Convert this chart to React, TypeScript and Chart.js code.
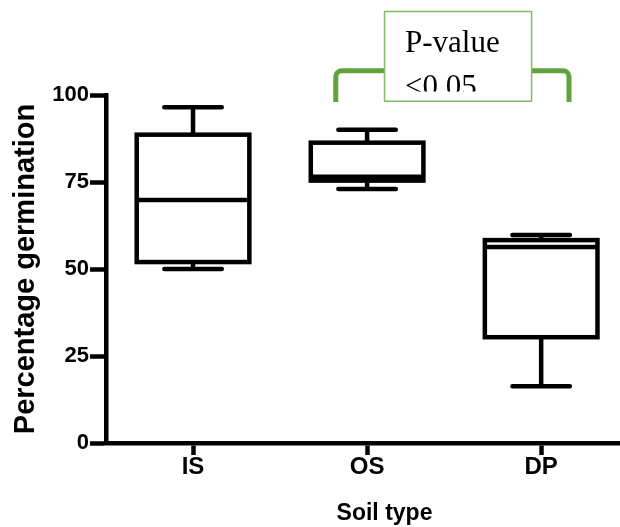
import React, { useEffect, useRef } from 'react';
import { Chart, registerables } from 'chart.js';

Chart.register(...registerables);

// ---- data ----
const CATEGORIES = ['IS', 'OS', 'DP'];
const WHISKER_MIN = [50, 73, 16.3];
const Q1 = [52, 75.4, 30.4];
const MEDIAN = [69.8, 76.5, 56.3];
const Q3 = [88.6, 86.3, 58.3];
const WHISKER_MAX = [96.5, 90, 59.8];
const Y_TICKS = [0, 25, 50, 75, 100];

const Y_TITLE = 'Percentage germination';
const X_TITLE = 'Soil type';
const NOTE_LINES = ['P-value', '<0.05'];

// ---- styling ----
const CANVAS_W = 675;
const CANVAS_H = 527;
const LINE_W = 4.5;
const CAP_RATIO = 0.51;
const SANS = "'Liberation Sans', Arial, sans-serif";
const SERIF = "'Liberation Serif', 'Times New Roman', serif";
const BRACKET_GREEN = '#5fa33a';
const NOTE_GREEN = '#82bb63';

// annotation placement in axis units (x: category index, y: percentage)
const BRACKET = { from: 0.82, to: 2.16, top: 107, bottom: 98 };
const NOTE_BOX = { from: 1.1, to: 1.945, top: 124, bottom: 98.2, clipBottom: 101 };
const NOTE_TEXT = { x: 1.218, baselines: [112.4, 99.7] };

const boxPlotPlugin = {
  id: 'boxPlotStrokes',
  afterDatasetsDraw(chart: any) {
    const meta = chart.getDatasetMeta(0);
    const ys = chart.scales.y;
    const ctx = chart.ctx;
    ctx.save();
    ctx.strokeStyle = '#000';
    ctx.lineWidth = LINE_W;
    meta.data.forEach((bar: any, i: number) => {
      const { x, width } = bar.getProps(['x', 'width'], true);
      const left = x - width / 2;
      const right = x + width / 2;
      const yMin = ys.getPixelForValue(WHISKER_MIN[i]);
      const yQ1 = ys.getPixelForValue(Q1[i]);
      const yMed = ys.getPixelForValue(MEDIAN[i]);
      const yQ3 = ys.getPixelForValue(Q3[i]);
      const yMax = ys.getPixelForValue(WHISKER_MAX[i]);
      // whisker stems
      ctx.lineCap = 'butt';
      ctx.beginPath();
      ctx.moveTo(x, yQ3);
      ctx.lineTo(x, yMax);
      ctx.moveTo(x, yQ1);
      ctx.lineTo(x, yMin);
      ctx.stroke();
      // caps
      const half = (width * CAP_RATIO) / 2;
      ctx.lineCap = 'round';
      ctx.beginPath();
      ctx.moveTo(x - half, yMax);
      ctx.lineTo(x + half, yMax);
      ctx.moveTo(x - half, yMin);
      ctx.lineTo(x + half, yMin);
      ctx.stroke();
      // box
      ctx.lineCap = 'butt';
      ctx.lineJoin = 'miter';
      ctx.strokeRect(left, yQ3, width, yQ1 - yQ3);
      // median
      ctx.beginPath();
      ctx.moveTo(left, yMed);
      ctx.lineTo(right, yMed);
      ctx.stroke();
    });
    ctx.restore();
  },
};

const annotationPlugin = {
  id: 'pValueNote',
  afterDraw(chart: any) {
    const { ctx } = chart;
    const xs = chart.scales.x;
    const ys = chart.scales.y;
    const px = (v: number) => xs.getPixelForValue(v);
    const py = (v: number) => ys.getPixelForValue(v);
    ctx.save();
    // bracket
    const xl = px(BRACKET.from);
    const xr = px(BRACKET.to);
    const yt = py(BRACKET.top);
    const yb = py(BRACKET.bottom);
    const r = 6;
    ctx.strokeStyle = BRACKET_GREEN;
    ctx.lineWidth = 5;
    ctx.lineCap = 'butt';
    ctx.lineJoin = 'round';
    ctx.beginPath();
    ctx.moveTo(xl, yb);
    ctx.lineTo(xl, yt + r);
    ctx.arcTo(xl, yt, xl + r, yt, r);
    ctx.lineTo(xr - r, yt);
    ctx.arcTo(xr, yt, xr, yt + r, r);
    ctx.lineTo(xr, yb);
    ctx.stroke();
    // text box
    const bl = px(NOTE_BOX.from);
    const br = px(NOTE_BOX.to);
    const bt = py(NOTE_BOX.top);
    const bb = py(NOTE_BOX.bottom);
    ctx.fillStyle = '#fff';
    ctx.fillRect(bl, bt, br - bl, bb - bt);
    ctx.save();
    ctx.beginPath();
    ctx.rect(bl, bt, br - bl, py(NOTE_BOX.clipBottom) - bt);
    ctx.clip();
    ctx.fillStyle = '#000';
    ctx.font = `31px ${SERIF}`;
    ctx.textAlign = 'left';
    ctx.textBaseline = 'alphabetic';
    NOTE_LINES.forEach((line, i) => {
      ctx.fillText(line, px(NOTE_TEXT.x), py(NOTE_TEXT.baselines[i]));
    });
    ctx.restore();
    ctx.strokeStyle = NOTE_GREEN;
    ctx.lineWidth = 1.5;
    ctx.strokeRect(bl, bt, br - bl, bb - bt);
    ctx.restore();
  },
};

export default function App() {
  const canvasRef = useRef<HTMLCanvasElement | null>(null);

  useEffect(() => {
    const canvas = canvasRef.current;
    if (!canvas) return;
    const chart = new Chart(canvas, {
      type: 'bar',
      data: {
        datasets: [
          {
            data: CATEGORIES.map((_, i) => ({ x: i, y: [Q1[i], Q3[i]] })) as any,
            backgroundColor: '#ffffff',
            borderWidth: 0,
            barPercentage: 0.647,
            categoryPercentage: 1,
          },
        ],
      },
      options: {
        animation: false,
        responsive: false,
        maintainAspectRatio: false,
        layout: { padding: { top: 95, right: 12, left: 0, bottom: 0 } },
        plugins: {
          legend: { display: false },
          tooltip: { enabled: false },
        },
        scales: {
          x: {
            type: 'linear',
            offset: false,
            min: -0.5,
            max: 2.7,
            afterBuildTicks: (scale: any) => {
              scale.ticks = CATEGORIES.map((_, i) => ({ value: i }));
            },
            afterFit: (scale: any) => {
              scale.height = 84;
            },
            ticks: {
              callback: (v: any) => CATEGORIES[v] ?? '',
              color: '#000',
              font: { family: SANS, size: 24, weight: 'bold', lineHeight: 1 },
              padding: 0,
              maxRotation: 0,
              autoSkip: false,
            },
            grid: {
              display: true,
              drawOnChartArea: false,
              drawTicks: true,
              tickLength: 12,
              tickWidth: LINE_W,
              tickColor: '#000',
              offset: false,
            },
            border: { display: true, color: '#000', width: LINE_W },
            title: {
              display: true,
              text: X_TITLE,
              color: '#000',
              font: { family: SANS, size: 23, weight: 'bold' },
              padding: { top: 0, bottom: 0 },
            },
          },
          y: {
            min: 0,
            max: 100,
            afterBuildTicks: (scale: any) => {
              scale.ticks = Y_TICKS.map((v) => ({ value: v }));
            },
            afterFit: (scale: any) => {
              scale.width = 106;
            },
            ticks: {
              color: '#000',
              font: { family: SANS, size: 22, weight: 'bold' },
              padding: 1,
            },
            grid: {
              display: true,
              drawOnChartArea: false,
              drawTicks: true,
              tickLength: 16,
              tickWidth: LINE_W,
              tickColor: '#000',
            },
            border: { display: true, color: '#000', width: LINE_W },
            title: {
              display: true,
              text: Y_TITLE,
              color: '#000',
              font: { family: SANS, size: 29, weight: 'bold' },
              padding: { top: 9, bottom: 0 },
            },
          },
        },
      },
      plugins: [boxPlotPlugin, annotationPlugin],
    } as any);
    return () => chart.destroy();
  }, []);

  return (
    <div
      style={{
        position: 'fixed',
        left: 0,
        top: 0,
        width: 620,
        height: 527,
        overflow: 'hidden',
        background: '#fff',
      }}
    >
      <canvas
        ref={canvasRef}
        width={CANVAS_W}
        height={CANVAS_H}
        style={{ display: 'block', width: CANVAS_W, height: CANVAS_H }}
      />
    </div>
  );
}
